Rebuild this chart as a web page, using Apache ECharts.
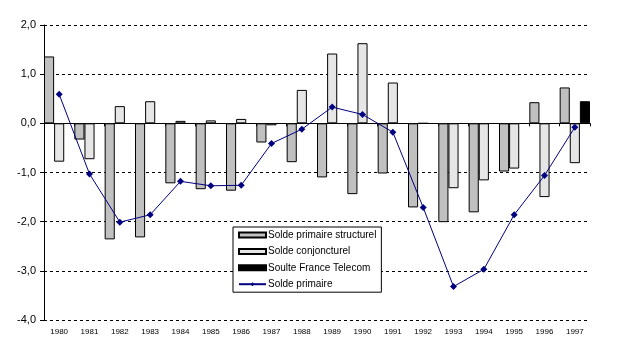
<!DOCTYPE html>
<html>
<head>
<meta charset="utf-8">
<script src="https://cdn.jsdelivr.net/npm/echarts@6/dist/echarts.min.js"></script>
<style>html,body{margin:0;padding:0;background:#fff}#c{width:633px;height:355px}</style>
</head>
<body>
<div id="c"></div>
<script>
var years = ['1980','1981','1982','1983','1984','1985','1986','1987','1988','1989','1990','1991','1992','1993','1994','1995','1996','1997'];
var structurel = [1.36,-0.33,-2.36,-2.32,-1.22,-1.34,-1.37,-0.39,-0.79,-1.10,-1.44,-1.02,-1.71,-2.01,-1.81,-0.98,0.43,0.73];
var conjoncturel = [-0.78,-0.73,0.35,0.45,0.05,0.06,0.09,-0.04,0.68,1.42,1.63,0.83,0,-1.32,-1.16,-0.92,-1.50,-0.81];
var soulte = [null,null,null,null,null,null,null,null,null,null,null,null,null,null,null,null,null,0.45];
var primaire = [0.59,-1.03,-2.01,-1.86,-1.18,-1.27,-1.26,-0.41,-0.12,0.33,0.18,-0.18,-1.71,-3.32,-2.97,-1.86,-1.06,-0.08];
var yTicks = {min:-4, max:2, interval:1};

var font = '"Liberation Sans", Arial, sans-serif';
var chart = echarts.init(document.getElementById('c'));
chart.setOption({
  animation:false,
  backgroundColor:'#fff',
  grid:{left:44, right:43, top:25, bottom:35},
  legend:{
    left:233, top:227, orient:'vertical',
    backgroundColor:'#fff', borderColor:'#000', borderWidth:1, borderRadius:0,
    padding:[2,5,2,5], itemWidth:27, itemHeight:5, itemGap:4.4,
    textStyle:{fontFamily:font, fontSize:10, color:'#000', lineHeight:12, padding:[0,0,0,-3]},
    data:[
      {name:'Solde primaire structurel', icon:'rect'},
      {name:'Solde conjoncturel', icon:'rect'},
      {name:'Soulte France Telecom', icon:'rect'},
      {name:'Solde primaire'}
    ]
  },
  xAxis:[{
    type:'category', data:years, position:'bottom',
    axisLine:{show:false, onZero:false}, axisTick:{show:false},
    axisLabel:{fontFamily:font, fontSize:8, color:'#000', margin:8, interval:0},
    splitLine:{show:false}
  },{
    type:'category', data:years, position:'bottom',
    axisLine:{show:true, onZero:true, lineStyle:{color:'#000', width:1}},
    axisTick:{show:true, length:3, interval:0, lineStyle:{color:'#000'}},
    axisLabel:{show:false}, splitLine:{show:false}
  }],
  yAxis:{
    type:'value', min:yTicks.min, max:yTicks.max, interval:yTicks.interval,
    axisLine:{show:true, lineStyle:{color:'#000', width:1}},
    axisTick:{show:true, length:4, lineStyle:{color:'#000'}},
    axisLabel:{fontFamily:font, fontSize:11, color:'#000', margin:8,
      formatter:function(v){return v.toFixed(1).replace('.',',');}},
    splitLine:{show:true, lineStyle:{color:'#000', type:[3,3], width:1}}
  },
  series:[
    {name:'Solde primaire structurel', type:'bar', data:structurel, xAxisIndex:0, barGap:'0%', barCategoryGap:'0%',
      itemStyle:{color:'#c0c0c0', borderColor:'#000', borderWidth:1}},
    {name:'Solde conjoncturel', type:'bar', data:conjoncturel, xAxisIndex:0, barGap:'0%', barCategoryGap:'0%',
      itemStyle:{color:'#e6e6e6', borderColor:'#000', borderWidth:1}},
    {name:'Soulte France Telecom', type:'bar', data:soulte, xAxisIndex:0, barGap:'0%', barCategoryGap:'0%',
      itemStyle:{color:'#000', borderColor:'#000', borderWidth:1}},
    {name:'Solde primaire', type:'line', data:primaire, xAxisIndex:0, z:5,
      symbol:'diamond', symbolSize:7, lineStyle:{color:'#000080', width:1},
      itemStyle:{color:'#000080'}}
  ]
});
</script>
</body>
</html>
